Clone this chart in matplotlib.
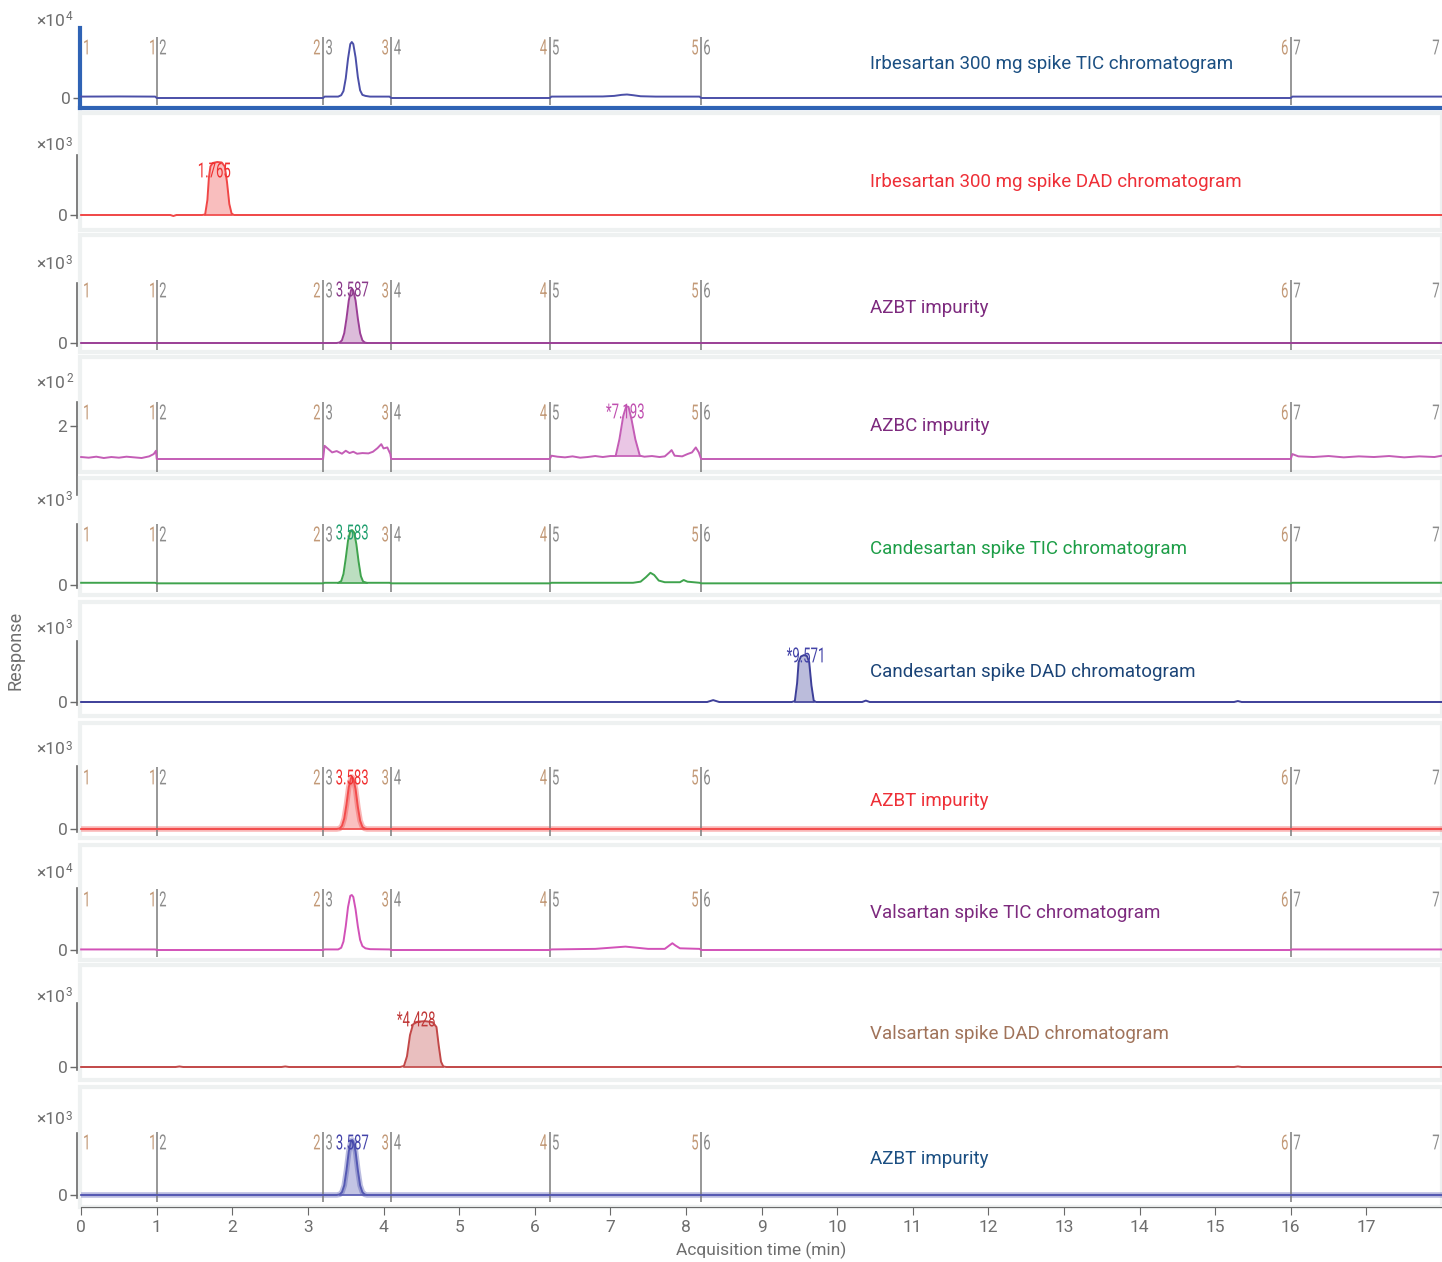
import numpy as np
import matplotlib
matplotlib.use('Agg')
import matplotlib.pyplot as plt
import matplotlib.transforms as mtransforms
from matplotlib.patches import Rectangle, PathPatch
from matplotlib.textpath import TextPath
from matplotlib.font_manager import FontProperties

W, H = 1442, 1262

titles = ["Irbesartan 300 mg spike TIC chromatogram", "Irbesartan 300 mg spike DAD chromatogram",
          "AZBT impurity", "AZBC impurity", "Candesartan spike TIC chromatogram",
          "Candesartan spike DAD chromatogram", "AZBT impurity", "Valsartan spike TIC chromatogram",
          "Valsartan spike DAD chromatogram", "AZBT impurity"]
title_colors = ["#1b4f82", "#ee2f37", "#7d2a7e", "#7d2a7e", "#1e9e48",
                "#1b4477", "#ee2f37", "#7d2a7e", "#a0735a", "#1b4f82"]
line_colors = ["#4b4fa8", "#f04646", "#9b3f96", "#c45db6", "#3fa34d",
               "#3d3f99", "#f24b4b", "#d252b8", "#c24848", "#5458b2"]
exponents = [4, 3, 3, 2, 3, 3, 3, 4, 3, 3]
has_segments = [True, False, True, True, True, False, True, True, False, True]

# MS time segment boundaries (min)
seg_bounds = [1.0, 3.2, 4.1, 6.2, 8.2, 16.0]

# traces as (time, response) in units of 10^n
irb_tic = [(0.0, 0.02), (0.5, 0.022), (0.98, 0.02), (1.0, 0.0), (3.2, 0.0), (3.22, 0.02), (3.40, 0.02),
           (3.44, 0.04), (3.47, 0.10), (3.50, 0.28), (3.53, 0.56), (3.56, 0.77), (3.58, 0.80), (3.60, 0.77),
           (3.63, 0.58), (3.66, 0.30), (3.69, 0.11), (3.72, 0.045), (3.76, 0.03), (3.82, 0.02), (4.08, 0.02),
           (4.1, 0.0), (6.2, 0.0), (6.22, 0.02), (6.9, 0.022), (7.05, 0.03), (7.15, 0.045), (7.22, 0.05),
           (7.3, 0.04), (7.4, 0.025), (7.6, 0.02), (8.18, 0.02), (8.2, 0.0), (16.0, 0.0), (16.02, 0.02),
           (18.0, 0.02)]
irb_dad = [(0.0, 0.0), (1.18, 0.0), (1.22, -0.02), (1.26, 0.0), (1.60, 0.0), (1.64, 0.01), (1.67, 0.3),
           (1.69, 0.75), (1.71, 0.97), (1.74, 1.04), (1.80, 1.06), (1.86, 1.05), (1.90, 0.97), (1.93, 0.65),
           (1.96, 0.22), (1.99, 0.03), (2.02, 0.0), (18.0, 0.0)]
azbt_a = [(0.0, 0.0), (3.38, 0.0), (3.42, 0.01), (3.45, 0.05), (3.48, 0.18), (3.51, 0.45), (3.54, 0.78),
          (3.57, 0.97), (3.585, 0.99), (3.60, 0.96), (3.63, 0.78), (3.66, 0.45), (3.69, 0.18), (3.72, 0.05),
          (3.75, 0.01), (3.78, 0.0), (18.0, 0.0)]
azbc = [(0.0, 1.06), (0.1, 1.04), (0.2, 1.07), (0.3, 1.03), (0.4, 1.06), (0.5, 1.04), (0.6, 1.07), (0.7, 1.05),
        (0.8, 1.03), (0.9, 1.08), (0.96, 1.15), (0.99, 1.25), (1.0, 1.0), (3.2, 1.0), (3.22, 1.4), (3.27, 1.3),
        (3.32, 1.2), (3.38, 1.24), (3.45, 1.16), (3.5, 1.25), (3.55, 1.18), (3.6, 1.22), (3.65, 1.16),
        (3.72, 1.18), (3.8, 1.17), (3.86, 1.22), (3.92, 1.33), (3.97, 1.45), (4.0, 1.32), (4.05, 1.35),
        (4.09, 1.15), (4.1, 1.0), (6.2, 1.0), (6.22, 1.1), (6.3, 1.07), (6.4, 1.05), (6.5, 1.08), (6.6, 1.04),
        (6.7, 1.06), (6.8, 1.09), (6.9, 1.06), (7.0, 1.09), (7.07, 1.09), (7.12, 1.6), (7.17, 2.3),
        (7.21, 2.6), (7.24, 2.58), (7.28, 2.2), (7.33, 1.6), (7.39, 1.1), (7.45, 1.07), (7.55, 1.09),
        (7.65, 1.06), (7.72, 1.08), (7.78, 1.2), (7.81, 1.27), (7.85, 1.1), (7.95, 1.08), (8.02, 1.15),
        (8.08, 1.2), (8.13, 1.35), (8.17, 1.2), (8.2, 1.0), (16.0, 1.0), (16.02, 1.15), (16.1, 1.08),
        (16.3, 1.06), (16.5, 1.09), (16.7, 1.05), (16.9, 1.08), (17.1, 1.06), (17.3, 1.09), (17.5, 1.05),
        (17.7, 1.08), (17.9, 1.06), (18.0, 1.1)]
cand_tic = [(0.0, 0.04), (0.98, 0.04), (1.0, 0.03), (3.2, 0.03), (3.22, 0.04), (3.40, 0.04), (3.44, 0.07),
            (3.47, 0.2), (3.50, 0.48), (3.53, 0.8), (3.56, 0.97), (3.583, 0.99), (3.61, 0.95), (3.64, 0.74),
            (3.67, 0.42), (3.70, 0.16), (3.73, 0.06), (3.78, 0.04), (4.08, 0.04), (4.1, 0.03), (6.2, 0.03),
            (6.22, 0.04), (7.3, 0.04), (7.40, 0.06), (7.47, 0.14), (7.53, 0.22), (7.58, 0.18), (7.64, 0.08),
            (7.72, 0.05), (7.92, 0.05), (7.97, 0.09), (8.02, 0.06), (8.18, 0.04), (8.2, 0.03), (16.0, 0.03),
            (16.02, 0.04), (18.0, 0.04)]
cand_dad = [(0.0, 0.0), (8.28, 0.0), (8.36, 0.04), (8.44, 0.0), (9.40, 0.0), (9.44, 0.02), (9.47, 0.4),
            (9.49, 0.85), (9.52, 0.97), (9.56, 1.0), (9.60, 0.98), (9.63, 0.85), (9.66, 0.35), (9.69, 0.03),
            (9.72, 0.0), (10.33, 0.0), (10.38, 0.03), (10.43, 0.0), (15.25, 0.0), (15.3, 0.02),
            (15.35, 0.0), (18.0, 0.0)]
azbt_b = [(0.0, 0.0), (3.38, 0.0), (3.42, 0.01), (3.45, 0.06), (3.48, 0.2), (3.51, 0.47), (3.54, 0.8),
          (3.57, 0.97), (3.583, 0.99), (3.60, 0.96), (3.63, 0.76), (3.66, 0.42), (3.69, 0.16), (3.72, 0.04),
          (3.75, 0.01), (3.78, 0.0), (18.0, 0.0)]
vals_tic = [(0.0, 0.01), (0.98, 0.01), (1.0, 0.0), (3.2, 0.0), (3.22, 0.01), (3.40, 0.01), (3.44, 0.04),
            (3.47, 0.15), (3.50, 0.42), (3.53, 0.76), (3.56, 0.96), (3.58, 0.975), (3.60, 0.94),
            (3.63, 0.72), (3.66, 0.42), (3.69, 0.18), (3.72, 0.07), (3.76, 0.03), (3.82, 0.015),
            (4.08, 0.01), (4.1, 0.0), (6.2, 0.0), (6.22, 0.01), (6.8, 0.02), (7.0, 0.04), (7.2, 0.06),
            (7.35, 0.04), (7.5, 0.02), (7.72, 0.02), (7.78, 0.08), (7.82, 0.12), (7.86, 0.08), (7.92, 0.03),
            (8.18, 0.02), (8.2, 0.0), (16.0, 0.0), (16.02, 0.01), (18.0, 0.01)]
vals_dad = [(0.0, 0.0), (1.25, 0.0), (1.3, 0.01), (1.35, 0.0), (2.65, 0.0), (2.7, 0.01), (2.75, 0.0),
            (4.22, 0.0), (4.27, 0.02), (4.31, 0.2), (4.35, 0.6), (4.39, 0.8), (4.45, 0.85), (4.55, 0.86),
            (4.65, 0.84), (4.70, 0.75), (4.73, 0.4), (4.76, 0.1), (4.79, 0.01), (4.83, 0.0), (15.25, 0.0),
            (15.3, 0.01), (15.35, 0.0), (18.0, 0.0)]
azbt_c = [(0.0, 0.0), (3.38, 0.0), (3.42, 0.01), (3.45, 0.05), (3.48, 0.17), (3.51, 0.44), (3.54, 0.77),
          (3.57, 0.96), (3.587, 0.975), (3.60, 0.95), (3.63, 0.77), (3.66, 0.44), (3.69, 0.17), (3.72, 0.05),
          (3.75, 0.01), (3.78, 0.0), (18.0, 0.0)]
traces = [irb_tic, irb_dad, azbt_a, azbc, cand_tic, cand_dad, azbt_b, vals_tic, vals_dad, azbt_c]

# integrated peaks
peak_panel = [1, 2, 3, 4, 5, 6, 8, 9]
peak_rt = [1.765, 3.587, 7.193, 3.583, 9.571, 3.583, 4.428, 3.587]
peak_text = ["1.765", "3.587", "*7.193", "3.583", "*9.571", "3.583", "*4.428", "3.587"]
fill_start = [1.64, 3.42, 7.07, 3.40, 9.44, 3.42, 4.27, 3.42]
fill_end = [1.99, 3.78, 7.39, 3.78, 9.69, 3.78, 4.79, 3.78]
fill_base = [0.0, 0.0, 1.09, 0.04, 0.0, 0.0, 0.0, 0.0]
label_colors = ["#f03030", "#8a3a8a", "#c050b0", "#22a070", "#4444a8", "#f03030", "#c03838", "#4444aa"]

# panel geometry in pixels
frame_top = [-6, 113, 235, 357, 478, 602, 723, 845, 965, 1087]
frame_bot = [108, 230, 352, 472, 595, 716, 838, 960, 1080, 1207]
zero_px = [98, 215, 343, 492, 585, 702, 829, 950, 1067, 1195]
px_unit = [70, 50, 54.5, 33, 55.5, 46.9, 52.5, 56.4, 53.3, 56.4]
spine_top = [28, 155, 283, 402, 524, 641, 766, 888, 1003, 1133]
exp_px = [20, 145, 263, 382, 500, 628, 749, 872, 996, 1119]
title_px = [64, 182, 308, 426, 549, 672, 801, 913, 1034, 1159]
seg_px = [47, 0, 290, 412, 534, 0, 777, 899, 0, 1142]
peak_px = [170, 289, 411, 532, 655, 777, 1019, 1142]

plt.rcParams['font.family'] = ['Roboto', 'DejaVu Sans']
grey = '#6e6e6e'
roboto = FontProperties(family='Roboto')

fig = plt.figure(figsize=(W / 100, H / 100), dpi=100)
left_px = 80


def val(i, py):
    return (zero_px[i] - py) / px_unit[i]


def narrow_text(ax, x, y, s, color, size=15.0, ha='center', squeeze=0.63):
    # condensed label drawn as a horizontally squeezed text path, centred vertically on y
    tp = TextPath((0, 0), s, size=size, prop=roboto)
    bb = tp.get_extents()
    ox = {'left': bb.x0, 'center': (bb.x0 + bb.x1) / 2, 'right': bb.x1}[ha]
    k = fig.dpi / 72
    tr = (mtransforms.Affine2D().translate(-ox, -0.355 * size).scale(squeeze * k, k)
          + mtransforms.ScaledTranslation(x, y, ax.transData))
    ax.add_artist(PathPatch(tp, transform=tr, facecolor=color, edgecolor='none', clip_on=False, zorder=5))


axes = []
for i in range(10):
    ax = fig.add_axes([left_px / W, 1 - frame_bot[i] / H, (W - left_px) / W,
                       (frame_bot[i] - frame_top[i]) / H])
    ax.set_xlim(-0.015, 18.0)
    ax.set_ylim(val(i, frame_bot[i]), val(i, frame_top[i]))
    ax.patch.set_alpha(0)
    for s in ['top', 'right', 'bottom']:
        ax.spines[s].set_visible(False)
    # light frame around the panel
    if i > 0:
        ax.add_patch(Rectangle((0, 0), 1, 1, transform=ax.transAxes, fill=False,
                               edgecolor='#eef1f1', lw=3, clip_on=False, zorder=0))
    if i == 0:
        ax.spines['left'].set_color('#2f63b5')
        ax.spines['left'].set_linewidth(3)
        ax.spines['left'].set_bounds(val(i, frame_bot[i]), val(i, spine_top[i]))
        ax.spines['bottom'].set_visible(True)
        ax.spines['bottom'].set_color('#2f63b5')
        ax.spines['bottom'].set_linewidth(3)
    else:
        ax.spines['left'].set_color('#6a6a6a')
        ax.spines['left'].set_linewidth(1.2)
        ax.spines['left'].set_position(('outward', 2))
        ax.spines['left'].set_bounds(val(i, zero_px[i] + 3), val(i, spine_top[i]))

    ax.set_yticks([2] if exponents[i] == 2 else [0])
    ax.tick_params(axis='y', length=5, width=1, color='#6a6a6a', labelcolor=grey,
                   labelsize=12.5, pad=2)
    if i < 9:
        ax.set_xticks([])

    t, y = np.array(traces[i]).T
    c = line_colors[i]
    if i in (6, 9):
        ax.plot(t, y, color=c, lw=4, alpha=0.4, solid_capstyle='butt')
    ax.plot(t, y, color=c, lw=1.4, zorder=3)

    # scale factor label, e.g. x10^3
    fig.text(65 / W, 1 - (exp_px[i] + 1) / H, "×10", ha='right', va='center', color=grey, fontsize=12.5)
    fig.text(66 / W, 1 - (exp_px[i] - 3) / H, str(exponents[i]), ha='left', va='center',
             color=grey, fontsize=8.5)
    fig.text(870 / W, 1 - title_px[i] / H, titles[i], ha='left', va='center',
             color=title_colors[i], fontsize=13.5)

    if has_segments[i]:
        lo = val(i, zero_px[i] + 7)
        hi = val(i, seg_px[i] - 10)
        ax.vlines(seg_bounds, lo, hi, color='#7a7a7a', lw=1.1, zorder=2)
        ly = val(i, seg_px[i])
        narrow_text(ax, 0.04, ly, "1", '#c39a78', ha='left')
        for k, xb in enumerate(seg_bounds):
            narrow_text(ax, xb - 0.04, ly, str(k + 1), '#c39a78', ha='right')
            narrow_text(ax, xb + 0.04, ly, str(k + 2), '#8c8c8c', ha='left')
        narrow_text(ax, 17.92, ly, "7", '#8c8c8c')
    axes.append(ax)

for j, p in enumerate(peak_panel):
    ax = axes[p]
    t, y = np.array(traces[p]).T
    m = (t >= fill_start[j]) & (t <= fill_end[j])
    ax.fill_between(t[m], y[m], fill_base[j], color=line_colors[p], alpha=0.35, lw=0, zorder=2)
    ax.plot([fill_start[j], fill_end[j]], [fill_base[j], fill_base[j]], color=line_colors[p], lw=1.2, zorder=3)
    narrow_text(ax, peak_rt[j], val(p, peak_px[j]), peak_text[j], label_colors[j])

# shared time axis on the bottom panel
ax = axes[-1]
ax.spines['bottom'].set_visible(True)
ax.spines['bottom'].set_color('#6a6a6a')
ax.spines['bottom'].set_bounds(0, 18)
ax.set_xticks(np.arange(0, 18))
ax.tick_params(axis='x', length=6, color='#6a6a6a', labelcolor=grey, labelsize=12.5, pad=3)
ax.set_xlabel("Acquisition time (min)", color=grey, fontsize=12.5, labelpad=5)

fig.text(16 / W, 1 - 650 / H, "Response", rotation=90, ha='center', va='center', color=grey, fontsize=13)

fig.savefig("out.png", dpi=100)
